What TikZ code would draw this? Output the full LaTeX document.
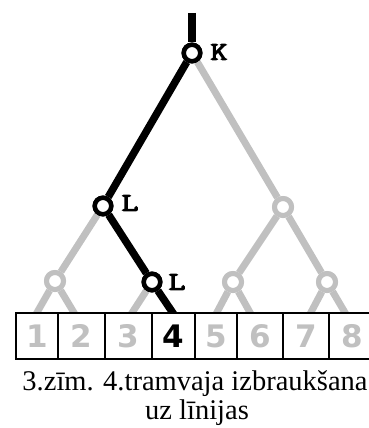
\documentclass[tikz,border=0pt]{standalone}
\usepackage{fontspec}
\setmainfont{Liberation Serif}
\newfontfamily\digitfont{DejaVu Sans}
\newfontfamily\lblfont{Latin Modern Mono}[FakeBold=4]
\definecolor{lgray}{HTML}{C0C0C0}
\begin{document}
\begin{tikzpicture}[x=1pt,y=-1pt,
  blackedge/.style={line width=7.5pt,black},
  grayedge/.style={line width=7pt,lgray},
  blacknode/.style={circle,draw=black,fill=white,line width=4.5pt,minimum size=16.5pt,inner sep=0pt},
  graynode/.style={circle,draw=lgray,fill=white,line width=5pt,minimum size=17pt,inner sep=0pt},
  leafbox/.style={draw=black,fill=white,line width=1.3pt,minimum height=46pt,inner sep=0pt},
  graydigit/.style={font=\digitfont\bfseries\fontsize{31}{31}\selectfont,text=lgray,inner sep=0pt},
  blackdigit/.style={font=\digitfont\bfseries\fontsize{31}{31}\selectfont,text=black,inner sep=0pt},
  lbl/.style={font=\lblfont\fontsize{26}{26}\selectfont,inner sep=0pt},
  caption/.style={font=\fontsize{28.5}{30}\selectfont,anchor=base,inner sep=0pt}]
\useasboundingbox (0,0) rectangle (369,428);
% node positions
\coordinate (top) at (192,13);
\node[blacknode] (K) at (192,53) {};
\node[blacknode] (L2) at (103,206) {};
\node[graynode] (R2) at (283,207) {};
\node[graynode] (L3a) at (55,281) {};
\node[blacknode] (L3) at (152,282) {};
\node[graynode] (R3a) at (233,282) {};
\node[graynode] (R3b) at (327,282) {};
% leaf ends
\coordinate (e1) at (35,316);
\coordinate (e2) at (76,316);
\coordinate (e3) at (130,316);
\coordinate (e4) at (175,316);
\coordinate (e5) at (215,316);
\coordinate (e6) at (252,316);
\coordinate (e7) at (309,316);
\coordinate (e8) at (347,316);
% gray edges
\draw[grayedge] (K) -- (R2);
\draw[grayedge] (R2) -- (R3a);
\draw[grayedge] (R2) -- (R3b);
\draw[grayedge] (L2) -- (L3a);
\draw[grayedge] (L3a) -- (e1);
\draw[grayedge] (L3a) -- (e2);
\draw[grayedge] (L3) -- (e3);
\draw[grayedge] (R3a) -- (e5);
\draw[grayedge] (R3a) -- (e6);
\draw[grayedge] (R3b) -- (e7);
\draw[grayedge] (R3b) -- (e8);
% black edges
\draw[blackedge] (top) -- (K);
\draw[blackedge] (K) -- (L2);
\draw[blackedge] (L2) -- (L3);
\draw[blackedge] (L3) -- (e4);
% redraw nodes on top
\node[blacknode] at (K) {};
\node[blacknode] at (L2) {};
\node[graynode] at (R2) {};
\node[graynode] at (L3a) {};
\node[blacknode] at (L3) {};
\node[graynode] at (R3a) {};
\node[graynode] at (R3b) {};
% boxes
\node[leafbox,minimum width=42pt] (b1) at (37,336) {};
\node[leafbox,minimum width=47pt] (b2) at (81.5,336) {};
\node[leafbox,minimum width=47pt] (b3) at (128.5,336) {};
\node[leafbox,minimum width=43pt] (b4) at (173.5,336) {};
\node[leafbox,minimum width=42pt] (b5) at (216,336) {};
\node[leafbox,minimum width=46pt] (b6) at (260,336) {};
\node[leafbox,minimum width=46pt] (b7) at (306,336) {};
\node[leafbox,minimum width=46pt] (b8) at (352,336) {};
\node[graydigit] at (b1) {1};
\node[graydigit] at (b2) {2};
\node[graydigit] at (b3) {3};
\node[blackdigit] at (b4) {4};
\node[graydigit] at (b5) {5};
\node[graydigit] at (b6) {6};
\node[graydigit] at (b7) {7};
\node[graydigit] at (b8) {8};
% labels
\node[lbl] (kl) at (219,52) {\scalebox{1.25}[1]{K}};
\node[lbl] (l2l) at (130,203) {\scalebox{1.25}[1]{L}};
\node[lbl] (l3l) at (177,282) {\scalebox{1.25}[1]{L}};
% caption
\node[caption] (cap1) at (195,390) {3.zīm. 4.tramvaja izbraukšana};
\node[caption] (cap2) at (197,419) {uz līnijas};
\end{tikzpicture}
\end{document}
